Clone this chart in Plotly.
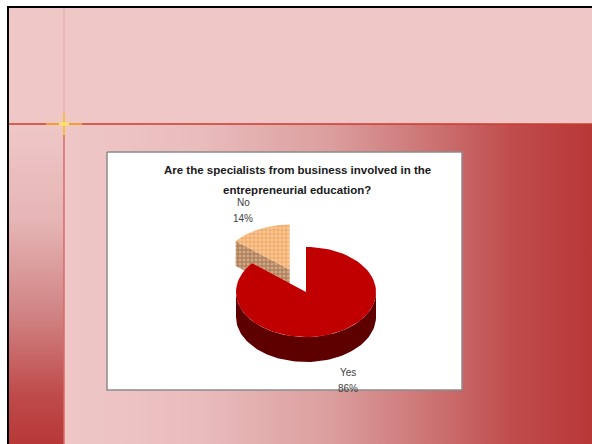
import numpy as np
import plotly.graph_objects as go

# chart data
categories = ["Yes", "No"]
shares = [86, 14]
title_lines = ["Are the specialists from business involved in the",
               "entrepreneurial education?"]

# axes are laid out in page pixels
W, H = 592, 444
XR, YB = W + 12, H + 12  # background shapes run past the window edge
CX, CY = 306, 292      # pie centre
RX, RY = 70, 45        # ellipse radii of the tilted top face
DEPTH = 25
BAND = 124             # bottom of the title band on the slide
explode = {"Yes": 0.0, "No": 0.55}
top_style = {
    "Yes": dict(fillcolor="#c00000"),
    "No": dict(fillcolor="#f8c690",
               fillpattern=dict(shape="+", bgcolor="#f9c896", fgcolor="#e87a20", size=4, solidity=0.4)),
}
side_style = {
    "Yes": dict(fillcolor="#5e0000"),
    "No": dict(fillcolor="#c89c78",
               fillpattern=dict(shape="+", bgcolor="#d2a884", fgcolor="#6e3a18", size=4, solidity=0.4)),
}
label_pos = {"No": (243, 202), "Yes": (348, 372)}
FONT = "Liberation Sans Narrow, Arial Narrow, Liberation Sans"

fig = go.Figure()


def poly(xs, ys, **kw):
    fig.add_trace(go.Scatter(x=list(xs), y=list(ys), mode="lines", fill="toself",
                             line=dict(width=0), hoverinfo="skip", **kw))


def line(xs, ys, color, width):
    fig.add_trace(go.Scatter(x=xs, y=ys, mode="lines", line=dict(color=color, width=width),
                             hoverinfo="skip"))


# === slide background ===
poly([8, XR, XR, 8], [7, 7, BAND, BAND], fillcolor="#efc7c7")
poly([8, 64, 64, 8], [BAND, BAND, YB, YB], fillcolor="#efc7c7",
     fillgradient=dict(type="vertical", start=BAND, stop=H,
                       colorscale=[[0, "#efc7c7"], [0.3, "#e6b5b5"], [0.6, "#d08282"],
                                   [0.85, "#bf4a4a"], [1, "#b83838"]]))
poly([64, XR, XR, 64], [BAND, BAND, YB, YB], fillcolor="#efc7c7",
     fillgradient=dict(type="horizontal", start=64, stop=W,
                       colorscale=[[0, "#efc7c7"], [0.25, "#eabdbd"], [0.5, "#dc9f9f"],
                                   [0.7, "#cc7272"], [0.85, "#c04c4c"], [1, "#b83737"]]))
line([64, 64], [7, BAND], "#e4a4a4", 1)
line([64, 64], [BAND, YB], "#d86a6a", 1.5)
line([8, XR], [BAND, BAND], "#cf3a2e", 1.5)
# little glow where the two guide lines cross
line([46, 82], [BAND, BAND], "#f0a030", 2)
line([64, 64], [113, 135], "#f4c040", 2)
line([59, 69], [BAND, BAND], "#fbe070", 3)
line([8, 8], [6, YB], "black", 2)
line([7, XR], [7, 7], "black", 2)

# chart box
fig.add_trace(go.Scatter(x=[107, 462, 462, 107, 107], y=[152, 152, 390, 390, 152], mode="lines",
                         fill="toself", fillcolor="white", line=dict(color="#8c8c8c", width=1.5),
                         hoverinfo="skip"))

# === 3D pie built from the shares ===
total = sum(shares)
slices = []
a = 0.0
for cat, v in zip(categories, shares):
    a1 = a + 360.0 * v / total
    mid = np.radians((a + a1) / 2)
    e = explode[cat]
    slices.append((cat, a, a1, CX + e * RX * np.sin(mid), CY - e * RY * np.cos(mid), np.cos(mid)))
    a = a1


def rim(cx, cy, t0, t1, dy=0, n=80):
    t = np.radians(np.linspace(t0, t1, n))
    return cx + RX * np.sin(t), cy - RY * np.cos(t) + dy


# paint back slices first
for cat, a0, a1, cx, cy, back in sorted(slices, key=lambda s: -s[5]):
    # cut faces, drawn only when they face the viewer
    if np.sin(np.radians(a0)) < -1e-6:
        ex, ey = rim(cx, cy, a0, a0, n=1)
        poly([cx, ex[0], ex[0], cx], [cy, ey[0], ey[0] + DEPTH, cy + DEPTH], **side_style[cat])
    if np.sin(np.radians(a1)) > 1e-6:
        ex, ey = rim(cx, cy, a1, a1, n=1)
        poly([cx, ex[0], ex[0], cx], [cy, ey[0], ey[0] + DEPTH, cy + DEPTH], **side_style[cat])
    # outer wall on the front half
    s0, s1 = max(a0, 90), min(a1, 270)
    if s1 > s0:
        tx, ty = rim(cx, cy, s0, s1)
        bx, by = rim(cx, cy, s1, s0, DEPTH)
        poly(np.r_[tx, bx], np.r_[ty, by], **side_style[cat])
    # top face
    tx, ty = rim(cx, cy, a0, a1)
    poly(np.r_[cx, tx, cx], np.r_[cy, ty, cy], **top_style[cat])

# labels
annotations = []
for cat, v in zip(categories, shares):
    lx, ly = label_pos[cat]
    for i, txt in enumerate([cat, f"{v}%"]):
        annotations.append(dict(x=lx, y=ly + 16 * i, xref="x", yref="y", text=txt, showarrow=False,
                                font=dict(family=FONT, size=10, color="#404040")))
for i, txt in enumerate(title_lines):
    annotations.append(dict(x=297, y=170 + 20 * i, xref="x", yref="y", text=f"<b>{txt}</b>",
                            showarrow=False, font=dict(family=FONT, size=11.5, color="#1a1a1a")))

fig.update_layout(
    width=W, height=H,
    margin=dict(l=0, r=0, t=0, b=0),
    paper_bgcolor="white", plot_bgcolor="white",
    showlegend=False,
    annotations=annotations,
    xaxis=dict(range=[0, W], visible=False, fixedrange=True, domain=[0, 1]),
    yaxis=dict(range=[H, 0], visible=False, fixedrange=True, domain=[0, 1]),
)

# drop the page's default body margin so the figure fills the window
fig.write_html("out.html", config={"displayModeBar": False},
               post_script="document.body.style.margin='0';document.body.style.overflow='hidden';")
